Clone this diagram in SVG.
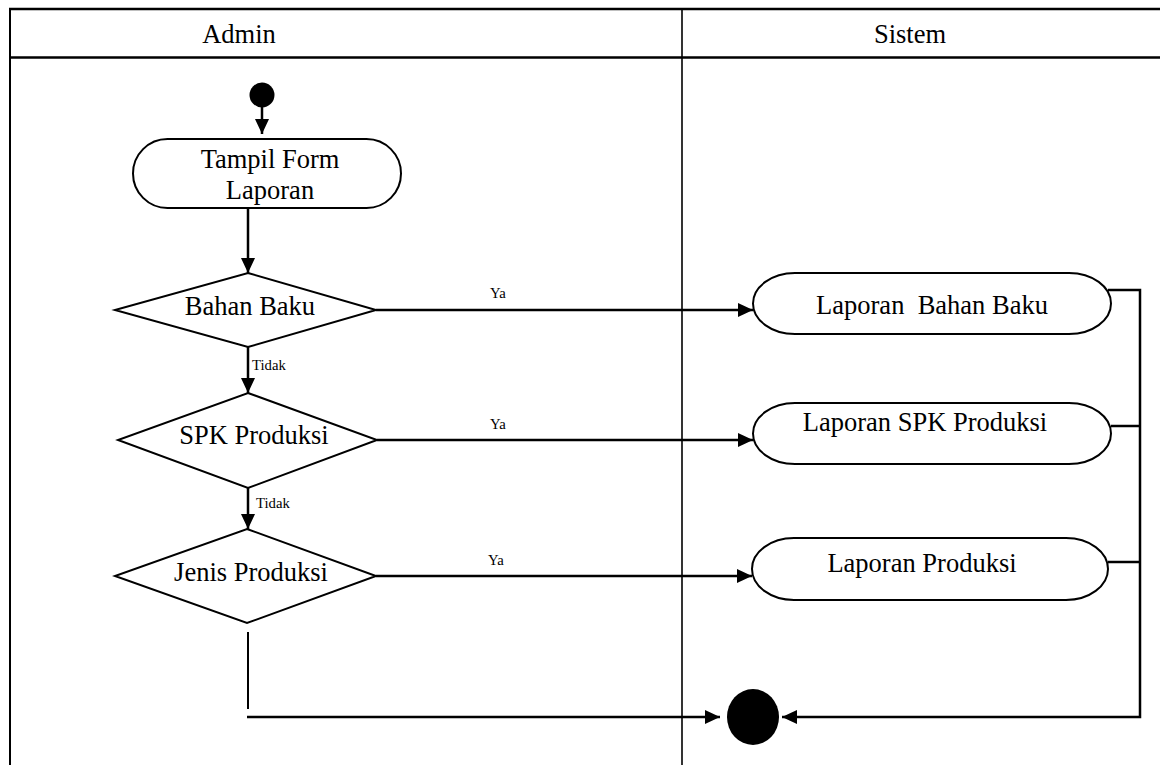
<svg xmlns="http://www.w3.org/2000/svg" width="1160" height="765" viewBox="0 0 1160 765">
<defs>
<style>
.lane{stroke:#000;fill:none}
.shape{fill:#fff;stroke:#000;stroke-width:2}
.conn{stroke:#000;stroke-width:2.5;fill:none}
.t{font-family:"Liberation Serif","Times New Roman",serif;font-size:26.5px;fill:#000;text-anchor:middle}
.s{font-family:"Liberation Serif","Times New Roman",serif;font-size:14.7px;fill:#000}
</style>
<marker id="ah" markerUnits="userSpaceOnUse" markerWidth="16" markerHeight="16" refX="15" refY="7" orient="auto">
<path d="M0,0 L15,7 L0,14 Z" fill="#000"/>
</marker>
</defs>
<rect width="1160" height="765" fill="#fff"/>
<g id="swimlanes">
<line class="lane" x1="9" y1="9" x2="1160" y2="9" stroke-width="2.5"/>
<line class="lane" x1="10" y1="57.5" x2="1160" y2="57.5" stroke-width="2.5"/>
<line class="lane" x1="10" y1="8" x2="10" y2="765" stroke-width="2"/>
<line class="lane" x1="682" y1="9" x2="682" y2="765" stroke-width="1.6" stroke="#222"/>
<text class="t" x="239" y="43">Admin</text>
<text class="t" x="910" y="43">Sistem</text>
</g>
<g id="connectors">
<line class="conn" x1="262" y1="107" x2="262" y2="134" marker-end="url(#ah)"/>
<line class="conn" x1="248" y1="208" x2="248" y2="273" marker-end="url(#ah)"/>
<line class="conn" x1="248" y1="347" x2="248" y2="393" marker-end="url(#ah)"/>
<line class="conn" x1="248" y1="488" x2="248" y2="529" marker-end="url(#ah)"/>
<line class="conn" x1="376" y1="310" x2="753" y2="310" marker-end="url(#ah)"/>
<line class="conn" x1="377" y1="440" x2="753" y2="440" marker-end="url(#ah)"/>
<line class="conn" x1="376" y1="576" x2="752" y2="576" marker-end="url(#ah)"/>
<path class="conn" d="M1108,290 H1140 V717 H782" marker-end="url(#ah)"/>
<line class="conn" x1="1111" y1="426" x2="1140" y2="426"/>
<line class="conn" x1="1108" y1="562" x2="1140" y2="562"/>
<line x1="248" y1="632" x2="248" y2="709" stroke="#000" stroke-width="2"/>
<line class="conn" x1="247" y1="717" x2="720" y2="717" marker-end="url(#ah)"/>
<text class="s" x="490" y="298">Ya</text>
<text class="s" x="490" y="429">Ya</text>
<text class="s" x="488" y="565">Ya</text>
<text class="s" x="252" y="370">Tidak</text>
<text class="s" x="256" y="508">Tidak</text>
</g>
<g id="start">
<circle cx="262" cy="95" r="12.5" fill="#000"/>
</g>
<g id="tampil-form-laporan">
<rect class="shape" x="133" y="139" width="268" height="69" rx="34.5" ry="34.5"/>
<text class="t" x="270" y="168">Tampil Form</text>
<text class="t" x="270" y="199">Laporan</text>
</g>
<g id="dec-bahan-baku">
<polygon class="shape" points="248,273 376,310 248,347 115,310"/>
<text class="t" x="250" y="315">Bahan Baku</text>
</g>
<g id="dec-spk-produksi">
<polygon class="shape" points="248,393 377,440 248,488 118,440"/>
<text class="t" x="254" y="444">SPK Produksi</text>
</g>
<g id="dec-jenis-produksi">
<polygon class="shape" points="247,529 376,576 247,623 115,576"/>
<text class="t" x="251" y="581">Jenis Produksi</text>
</g>
<g id="laporan-bahan-baku">
<rect class="shape" x="753" y="273" width="358" height="61" rx="42" ry="30.5"/>
<text class="t" x="932" y="314" xml:space="preserve">Laporan  Bahan Baku</text>
</g>
<g id="laporan-spk-produksi">
<rect class="shape" x="753" y="403" width="358" height="61" rx="42" ry="30.5"/>
<text class="t" x="925" y="431">Laporan SPK Produksi</text>
</g>
<g id="laporan-produksi">
<rect class="shape" x="752" y="538" width="356" height="62" rx="42" ry="31"/>
<text class="t" x="922" y="572">Laporan Produksi</text>
</g>
<g id="end">
<ellipse cx="753" cy="717" rx="26" ry="28" fill="#000"/>
</g>
</svg>
